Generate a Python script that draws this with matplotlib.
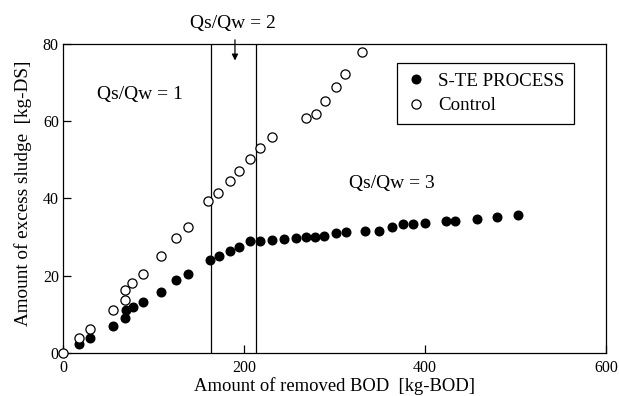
import matplotlib
matplotlib.use("Agg")
import matplotlib.pyplot as plt

plt.rcParams['font.family'] = ['Liberation Serif', 'DejaVu Serif']

# S-TE PROCESS (filled)
ste_x = [18, 30, 55, 69, 70, 77, 88, 108, 125, 138, 162, 172, 184, 195, 207, 218,
         231, 244, 257, 268, 278, 288, 302, 313, 334, 349, 363, 376, 387, 400,
         423, 433, 457, 480, 503]
ste_y = [2.2, 4.0, 7.0, 9.0, 11.1, 11.8, 13.3, 15.7, 18.9, 20.5, 24.1, 25.2, 26.5,
         27.4, 29.0, 29.1, 29.3, 29.4, 29.8, 30.0, 30.0, 30.4, 31.0, 31.2, 31.7,
         31.6, 32.7, 33.3, 33.4, 33.7, 34.2, 34.3, 34.6, 35.1, 35.6]

# Control (open)
ctl_x = [0, 18, 30, 55, 69, 69, 76, 88, 108, 125, 138, 160, 171, 184, 195, 207,
         218, 231, 269, 280, 290, 302, 312, 330]
ctl_y = [0, 3.9, 6.1, 11.1, 13.7, 16.3, 18.2, 20.4, 25.0, 29.7, 32.7, 39.3, 41.3,
         44.6, 47.1, 50.1, 53.0, 56.0, 60.9, 61.9, 65.3, 68.8, 72.3, 77.9]

boundaries = [163, 213]
x_ticks = [0, 200, 400, 600]
y_ticks = [0, 20, 40, 60, 80]

fig = plt.figure(figsize=(6.19, 3.96), dpi=100)
ax = fig.add_axes([0.1018, 0.1086, 0.8772, 0.7803])

ax.plot(ste_x, ste_y, 'o', color='black', markersize=6.2, linestyle='none',
        label='S-TE PROCESS', zorder=3)
ax.plot(ctl_x, ctl_y, 'o', markerfacecolor='white', markeredgecolor='black',
        markeredgewidth=0.9, markersize=6.6, linestyle='none', label='Control',
        zorder=3, clip_on=False)

for b in boundaries:
    ax.axvline(b, color='black', linewidth=0.9, zorder=2)

ax.set_xlim(0, 600)
ax.set_ylim(0, 80)
ax.set_xticks(x_ticks)
ax.set_yticks(y_ticks)
ax.tick_params(direction='in', length=6, width=0.9, labelsize=11.5,
               top=False, right=False)
ax.tick_params(axis='x', pad=5)
ax.tick_params(axis='y', pad=3)
for s in ax.spines.values():
    s.set_linewidth(0.9)

ax.set_xlabel('Amount of removed BOD  [kg-BOD]', fontsize=13.4, labelpad=1)
ax.set_ylabel('Amount of excess sludge  [kg-DS]', fontsize=13.8)
ax.yaxis.set_label_coords(-0.058, 0.516)

ax.text(84.5, 66.8, 'Qs/Qw = 1', fontsize=14, ha='center', va='center')
ax.text(363.5, 44.0, 'Qs/Qw = 3', fontsize=14, ha='center', va='center')
ax.text(188, 85.4, 'Qs/Qw = 2', fontsize=14, ha='center', va='center',
        clip_on=False)
ax.annotate('', xy=(190, 75.0), xytext=(190, 81.8),
            arrowprops=dict(arrowstyle='-|>', color='black', lw=0.9,
                            mutation_scale=9), annotation_clip=False)

leg = ax.legend(loc='upper right', bbox_to_anchor=(0.941, 0.9385),
                fontsize=13.6, frameon=True, fancybox=False, edgecolor='black',
                framealpha=1, handletextpad=0.7, borderpad=0.5,
                labelspacing=0.4, handlelength=1.0, borderaxespad=0)
leg.get_frame().set_linewidth(0.9)

fig.savefig('out.png', dpi=100)
